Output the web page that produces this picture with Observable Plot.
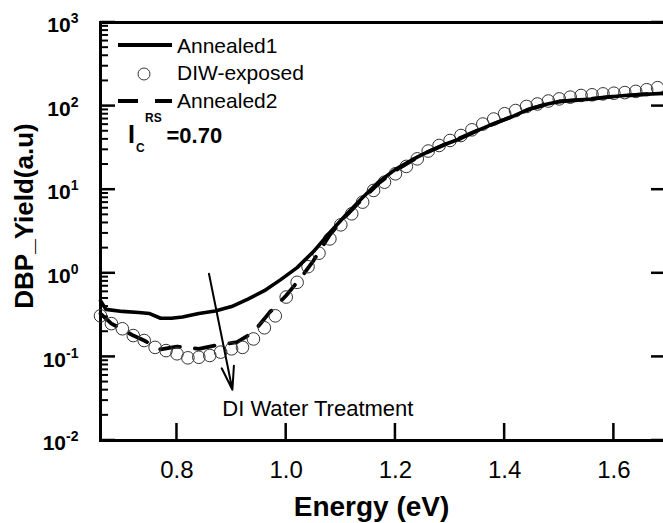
<!DOCTYPE html>
<html><head><meta charset="utf-8">
<script src="https://cdn.jsdelivr.net/npm/d3@7"></script>
<script src="https://cdn.jsdelivr.net/npm/@observablehq/plot@0.6"></script>
<style>
html,body{margin:0;padding:0;background:#fff;overflow:hidden}
#chart{width:663px;height:523px;overflow:hidden;position:relative}
#ticks{position:absolute;left:0;top:0;pointer-events:none}
</style></head><body><div id="chart"></div>
<script>
// DIW-exposed (open circles)
const circleE = [0.66,0.68,0.70,0.72,0.74,0.76,0.78,0.80,0.82,0.84,0.86,0.88,0.90,0.92,0.94,0.96,0.98,1.00,1.02,1.04,1.06,1.08,1.10,1.12,1.14,1.16,1.18,1.20,1.22,1.24,1.26,1.28,1.30,1.32,1.34,1.36,1.38,1.40,1.42,1.44,1.46,1.48,1.50,1.52,1.54,1.56,1.58,1.60,1.62,1.64,1.66,1.68];
const circleY = [0.31,0.25,0.217,0.18,0.157,0.13,0.119,0.109,0.0975,0.099,0.104,0.114,0.125,0.13,0.164,0.223,0.31,0.52,0.78,1.2,1.74,2.58,3.8,5.15,7.1,9.8,12.3,15.5,19,23.4,29,33.8,38.8,44.5,52,61,70,81,88.5,99,106,115,122,128,134,136.5,140,142.6,145,150,157,166];
// Annealed1 (solid)
const solidE = [0.66,0.67,0.70,0.73,0.75,0.77,0.79,0.81,0.84,0.87,0.90,0.93,0.96,0.99,1.02,1.05,1.08,1.11,1.14,1.17,1.20,1.23,1.26,1.29,1.32,1.35,1.38,1.41,1.44,1.47,1.50,1.53,1.56,1.59,1.62,1.65,1.70];
const solidY = [0.47,0.37,0.35,0.34,0.33,0.29,0.29,0.30,0.33,0.354,0.40,0.49,0.62,0.84,1.17,1.82,3.08,5.05,8.07,12.5,17.5,22.7,28.6,34.7,41,51,61.7,73,89.7,103,113.5,118,121.6,128.5,134,137.7,143];
// Annealed2 (dashed)
const dashE = [0.66,0.68,0.70,0.72,0.74,0.77,0.80,0.84,0.87,0.91,0.94,0.97,1.00,1.03,1.05,1.08,1.11,1.14,1.17,1.20,1.25,1.30,1.35,1.40,1.45,1.50,1.55,1.60,1.65,1.70];
const dashY = [0.33,0.25,0.213,0.18,0.157,0.123,0.133,0.125,0.137,0.15,0.197,0.343,0.542,0.94,1.42,2.9,4.9,7.8,12,17,26.5,36.8,51,69,94,113.5,120.5,130,137.7,143];

const xTicks = [0.8, 1.0, 1.2, 1.4, 1.6];
const yMajor = [1e-2, 1e-1, 1, 10, 100, 1000];
const yMinor = [];
for (let k = -2; k <= 2; k++) for (let m = 2; m <= 9; m++) yMinor.push(m * Math.pow(10, k));

const legendLabels = ["Annealed1", "DIW-exposed", "Annealed2"];
const annotation = [{x: 0.883, y: 0.0199, text: "DI Water Treatment"}];
const arrowSpec = [{x1: 0.8586, y1: 0.986, x2: 0.9015, y2: 0.0404}];
const xLabel = "Energy (eV)";
const yLabel = "DBP_Yield(a.u)";

const circles = circleE.map((e, i) => ({e, v: circleY[i]}));
const solid = solidE.map((e, i) => ({e, v: solidY[i]}));
const dashed = dashE.map((e, i) => ({e, v: dashY[i]}));

const W = 668, H = 523, ML = 100, MR = 0, MT = 22, MB = 83;
const FONT = "'Liberation Sans', Arial, Helvetica, sans-serif";

const plot = Plot.plot({
  width: W, height: H,
  marginLeft: ML, marginRight: MR, marginTop: MT, marginBottom: MB,
  style: {fontFamily: FONT, background: "white", color: "black", maxWidth: "none"},
  x: {domain: [0.66, 1.70], axis: null},
  y: {type: "log", domain: [1e-2, 1e3], axis: null},
  marks: [
    Plot.frame({strokeWidth: 3, stroke: "black"}),
    // tick labels
    Plot.text(xTicks, {x: d => d, text: d => d3.format(".1f")(d), frameAnchor: "bottom", textAnchor: "middle", lineAnchor: "top", dy: 20, fontSize: 24, fill: "black"}),
    Plot.text(yMajor, {y: d => d, text: d => "10^" + Math.round(Math.log10(d)), frameAnchor: "left", textAnchor: "end", dx: -22, dy: 3, fontSize: 21, fontWeight: "bold", fill: "black"}),
    // data
    Plot.line(dashed, {x: "e", y: "v", strokeWidth: 3.8, strokeDasharray: "20,15", stroke: "black"}),
    Plot.dot(circles, {x: "e", y: "v", r: 6.3, stroke: "#333", strokeWidth: 1, fill: "none"}),
    Plot.line(solid, {x: "e", y: "v", strokeWidth: 3.6, stroke: "black"}),
    // annotation
    Plot.arrow(arrowSpec, {x1: "x1", y1: "y1", x2: "x2", y2: "y2", strokeWidth: 2, headLength: 18, headAngle: 30, stroke: "black"}),
    Plot.text(annotation, {x: "x", y: "y", text: "text", textAnchor: "start", lineAnchor: "bottom", fontSize: 22, fill: "black"}),
    // axis titles
    Plot.text([xLabel], {text: d => d, frameAnchor: "bottom", textAnchor: "middle", dy: 75, dx: -13, lineAnchor: "bottom", fontSize: 28, fontWeight: "bold"}),
    Plot.text([yLabel], {text: d => d, frameAnchor: "left", textAnchor: "middle", rotate: -90, dx: -68, dy: -15.5, lineAnchor: "bottom", fontSize: 26, fontWeight: "bold"})
  ]
});

const svg = d3.select(plot);
const sx = plot.scale("x"), sy = plot.scale("y");
const left = ML, right = W - MR, bottom = H - MB;

// superscript exponents on y tick labels
svg.selectAll("text").each(function () {
  const s = this.textContent;
  if (!/^10\^/.test(s)) return;
  const [b, e] = s.split("^");
  const t = d3.select(this);
  t.text(b);
  t.append("tspan").attr("dy", -9).attr("font-size", 14).text(e);
});

// legend
const lg = svg.append("g").attr("font-family", FONT).attr("font-size", 21).attr("fill", "black").attr("text-anchor", "start");
lg.append("line").attr("x1", 118).attr("x2", 172).attr("y1", 45).attr("y2", 45).attr("stroke", "black").attr("stroke-width", 4);
lg.append("text").attr("x", 177).attr("y", 52.5).text(legendLabels[0]);
lg.append("circle").attr("cx", 144).attr("cy", 74).attr("r", 6).attr("fill", "none").attr("stroke", "#333").attr("stroke-width", 1);
lg.append("text").attr("x", 177).attr("y", 80).text(legendLabels[1]);
lg.append("line").attr("x1", 118).attr("x2", 172).attr("y1", 101).attr("y2", 101).attr("stroke", "black").attr("stroke-width", 4).attr("stroke-dasharray", "20,17");
lg.append("text").attr("x", 177).attr("y", 107.5).text(legendLabels[2]);

// I_C^RS = 0.70
const ic = svg.append("g").attr("font-family", FONT).attr("font-weight", "bold").attr("fill", "black").attr("text-anchor", "start");
ic.append("text").attr("x", 128).attr("y", 142.5).attr("font-size", 25).text("I");
ic.append("text").attr("x", 136).attr("y", 151.5).attr("font-size", 12).text("C");
ic.append("text").attr("x", 145).attr("y", 121.5).attr("font-size", 12).text("RS");
ic.append("text").attr("x", 166.5).attr("y", 142.5).attr("font-size", 22).text("=0.70");

const chart = document.getElementById("chart");
chart.appendChild(plot);

// inward ticks, positioned through Plot's own scales, drawn in an overlay layer
const ov = d3.create("svg").attr("id", "ticks").attr("width", W).attr("height", H).attr("viewBox", `0 0 ${W} ${H}`);
const tg = ov.append("g").attr("stroke", "#000").attr("fill", "none");
yMinor.forEach(v => { const y = sy.apply(v); tg.append("path").attr("d", `M${left},${y}H${left + 8}`).attr("stroke-width", 2); });
yMajor.forEach(v => { const y = sy.apply(v); tg.append("path").attr("d", `M${left},${y}H${left + 15}`).attr("stroke-width", 2.5); });
yMajor.forEach(v => { const y = sy.apply(v); tg.append("path").attr("d", `M${right},${y}H${right - 17}`).attr("stroke-width", 2.5); });
xTicks.forEach(v => { const x = sx.apply(v); tg.append("path").attr("d", `M${x},${bottom}V${bottom - 17}`).attr("stroke-width", 2.5); });
chart.appendChild(ov.node());
</script>
</body></html>
